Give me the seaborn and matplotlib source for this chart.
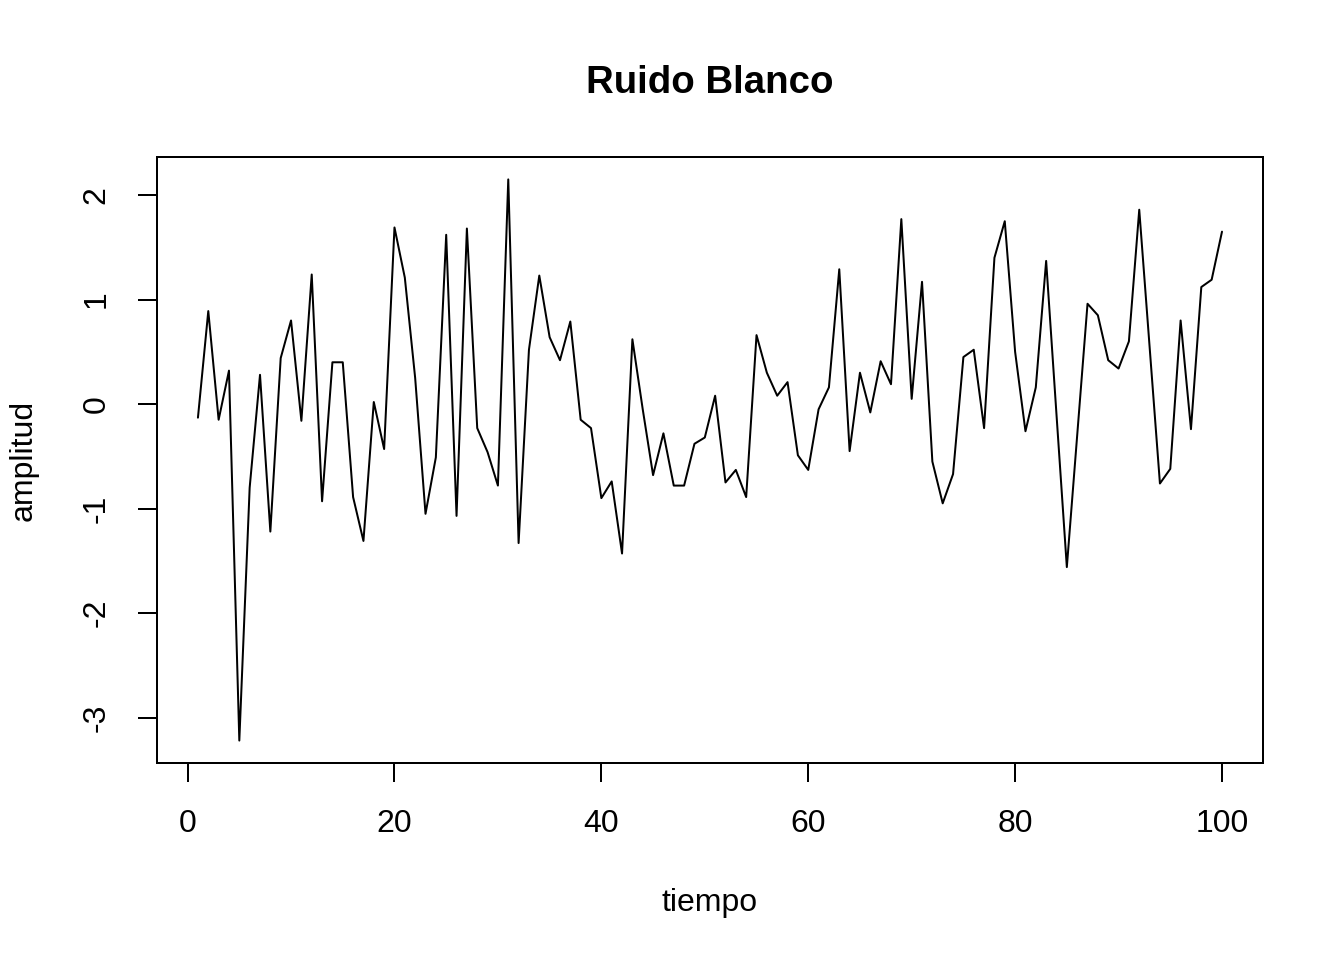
import matplotlib
matplotlib.use("Agg")
import matplotlib.pyplot as plt
import seaborn as sns
import numpy as np
import pandas as pd

# valores
tiempo = list(range(1, 101))
amplitud = [
    -0.13, 0.89, -0.15, 0.32, -3.22, -0.80, 0.28, -1.22, 0.44, 0.80,
    -0.16, 1.24, -0.93, 0.40, 0.40, -0.89, -1.31, 0.02, -0.43, 1.69,
    1.21, 0.25, -1.05, -0.51, 1.62, -1.07, 1.68, -0.23, -0.46, -0.78,
    2.15, -1.33, 0.52, 1.23, 0.64, 0.42, 0.79, -0.15, -0.23, -0.90,
    -0.74, -1.43, 0.62, -0.05, -0.68, -0.28, -0.78, -0.78, -0.38, -0.32,
    0.08, -0.75, -0.63, -0.89, 0.66, 0.30, 0.08, 0.21, -0.49, -0.63,
    -0.05, 0.16, 1.29, -0.45, 0.30, -0.08, 0.41, 0.19, 1.77, 0.05,
    1.17, -0.55, -0.95, -0.67, 0.45, 0.52, -0.23, 1.40, 1.75, 0.50,
    -0.26, 0.16, 1.37, -0.10, -1.56, -0.30, 0.96, 0.85, 0.42, 0.34,
    0.60, 1.86, 0.55, -0.76, -0.62, 0.80, -0.24, 1.12, 1.19, 1.65,
]
xticks = [0, 20, 40, 60, 80, 100]
yticks = [-3, -2, -1, 0, 1, 2]

df = pd.DataFrame({"tiempo": tiempo, "amplitud": amplitud})

sns.set_style("white")
plt.rcParams['font.family'] = ['Liberation Sans', 'DejaVu Sans']
plt.rcParams['axes.unicode_minus'] = False
plt.rcParams['text.color'] = 'black'
plt.rcParams['axes.labelcolor'] = 'black'

fig = plt.figure(figsize=(7, 5), dpi=192)
ax = fig.add_axes([0.1168, 0.2052, 0.8229, 0.6313])

sns.lineplot(data=df, x="tiempo", y="amplitud", ax=ax, color="black", linewidth=0.75)

# rango como en R (4% de margen)
xr = max(tiempo) - min(tiempo)
yr = max(amplitud) - min(amplitud)
ax.set_xlim(min(tiempo) - 0.04 * xr, max(tiempo) + 0.04 * xr)
ax.set_ylim(min(amplitud) - 0.04 * yr, max(amplitud) + 0.04 * yr)

ax.set_xticks(xticks)
ax.set_yticks(yticks)
ax.tick_params(axis="both", direction="out", length=7.1, width=0.75,
               labelsize=12, pad=10, color="black", labelcolor="black",
               bottom=True, left=True)
ax.tick_params(axis="y", labelrotation=90)
for lab in ax.get_yticklabels():
    lab.set_va("center")

for sp in ax.spines.values():
    sp.set_visible(True)
    sp.set_linewidth(0.75)
    sp.set_color("black")

ax.set_xlabel("tiempo", fontsize=12, labelpad=18.5, color="black")
ax.set_ylabel("amplitud", fontsize=12, labelpad=16, color="black")
ax.set_title("Ruido Blanco", fontsize=14.4, fontweight="bold", pad=24, color="black")

fig.savefig("out.png", dpi=192)
plt.close(fig)
